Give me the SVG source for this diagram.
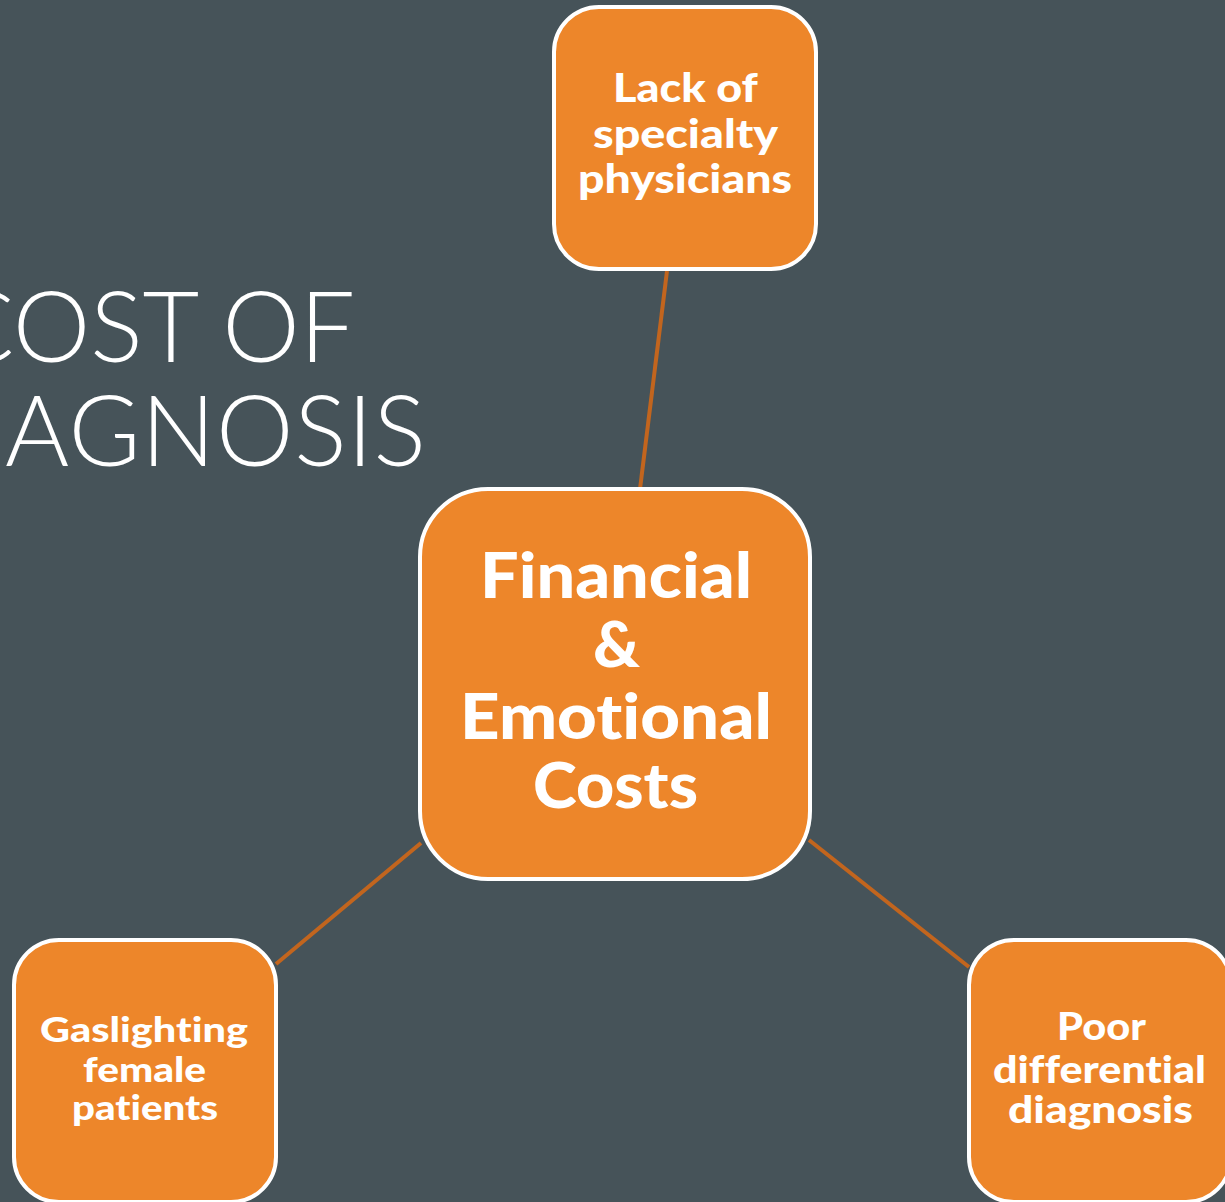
<svg xmlns="http://www.w3.org/2000/svg" width="1225" height="1202" viewBox="0 0 1225 1202">
  <style>
    .box { fill: #ED862A; stroke: #FFFFFF; stroke-width: 4; }
    .link { stroke: #C2651E; stroke-width: 4; fill: none; }
    .lbl { fill: #FFFFFF; font-family: Lato, "Open Sans", "Liberation Sans", sans-serif; font-weight: 900; font-variant-ligatures: none; }
    .title { fill: #FFFFFF; font-family: Lato, "Liberation Sans", sans-serif; font-weight: 300; font-size: 98px; }
  </style>
  <rect width="1225" height="1202" fill="#465359"/>

  <!-- slide title, running off the left edge -->
  <g id="title">
    <text class="title" x="-52" y="362" textLength="407" lengthAdjust="spacing">COST OF</text>
    <text class="title" x="5" y="466" textLength="421" lengthAdjust="spacing">AGNOSIS</text>
  </g>

  <!-- connectors between the central node and its three causes -->
  <g id="connectors">
    <line class="link" x1="667" y1="271" x2="640" y2="489"/>
    <line class="link" x1="421" y1="843" x2="276" y2="964"/>
    <line class="link" x1="809" y1="840" x2="969" y2="967"/>
  </g>

  <g id="node-center">
    <rect class="box" x="420" y="489" width="390" height="390" rx="68"/>
    <text class="lbl" font-size="62">
      <tspan x="480" y="598" textLength="272" lengthAdjust="spacingAndGlyphs">Financial</tspan>
      <tspan x="593" y="667" textLength="47" lengthAdjust="spacingAndGlyphs">&amp;</tspan>
      <tspan x="460" y="739" textLength="312" lengthAdjust="spacingAndGlyphs">Emotional</tspan>
      <tspan x="533" y="808" textLength="165" lengthAdjust="spacingAndGlyphs">Costs</tspan>
    </text>
  </g>

  <g id="node-top">
    <rect class="box" x="554" y="7" width="262" height="262" rx="45"/>
    <text class="lbl" font-size="40">
      <tspan x="613" y="102" textLength="144" lengthAdjust="spacingAndGlyphs">Lack of</tspan>
      <tspan x="593" y="148" textLength="184" lengthAdjust="spacingAndGlyphs">specialty</tspan>
      <tspan x="578" y="193" textLength="214" lengthAdjust="spacingAndGlyphs">physicians</tspan>
    </text>
  </g>

  <g id="node-left">
    <rect class="box" x="14" y="940" width="262" height="262" rx="45"/>
    <text class="lbl" font-size="35">
      <tspan x="40" y="1042" textLength="208" lengthAdjust="spacingAndGlyphs">Gaslighting</tspan>
      <tspan x="83" y="1082" textLength="123" lengthAdjust="spacingAndGlyphs">female</tspan>
      <tspan x="72" y="1120" textLength="146" lengthAdjust="spacingAndGlyphs">patients</tspan>
    </text>
  </g>

  <g id="node-right">
    <rect class="box" x="969" y="940" width="262" height="262" rx="45"/>
    <text class="lbl" font-size="37">
      <tspan x="1057" y="1040" textLength="88" lengthAdjust="spacingAndGlyphs">Poor</tspan>
      <tspan x="993" y="1083" textLength="213" lengthAdjust="spacingAndGlyphs">differential</tspan>
      <tspan x="1008" y="1123" textLength="185" lengthAdjust="spacingAndGlyphs">diagnosis</tspan>
    </text>
  </g>
</svg>
